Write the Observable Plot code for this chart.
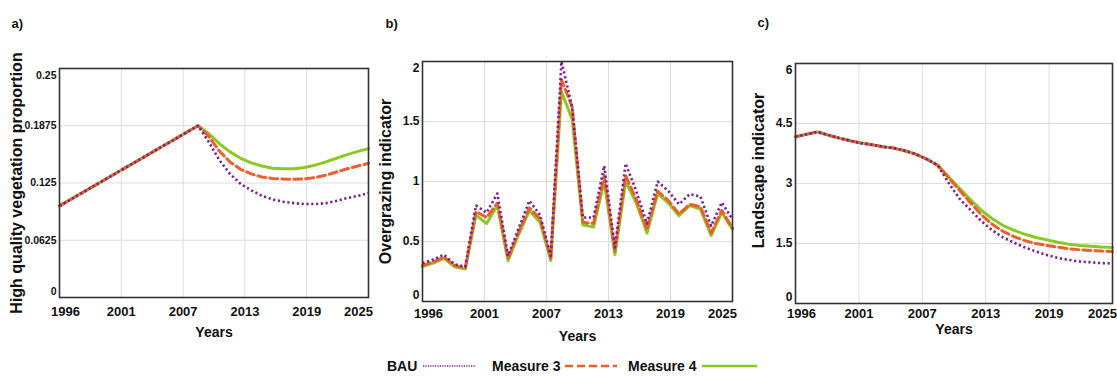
<!DOCTYPE html>
<html>
<head>
<meta charset="utf-8">
<script src="https://cdn.jsdelivr.net/npm/d3@7"></script>
<script src="https://cdn.jsdelivr.net/npm/@observablehq/plot@0.6"></script>
<style>
  body { margin: 0; background: #fff; }
  #fig { position: relative; width: 1117px; height: 377px; overflow: hidden; background: #fff;
         font-family: "Liberation Sans Narrow", "Liberation Sans", Arial, sans-serif; }
  .panel { position: absolute; top: 0; }
  .lg { position: absolute; top: 357px; font-size: 14px; font-weight: bold; color: #111; line-height: 18px; }
  .sw { position: absolute; top: 357px; }
</style>
</head>
<body>
<div id="fig">
  <div class="panel" id="pa" style="left:0px"></div>
  <div class="panel" id="pb" style="left:370px"></div>
  <div class="panel" id="pc" style="left:740px"></div>
  <div id="legend"></div>
</div>
<script>
// Simulation years and axis ticks (ticks split the 1996–2025 span in five equal steps)
const years = [1996,1997,1998,1999,2000,2001,2002,2003,2004,2005,2006,2007,2008,2009,2010,
               2011,2012,2013,2014,2015,2016,2017,2018,2019,2020,2021,2022,2023,2024,2025];
const xTicks = [1996, 2001.8, 2007.6, 2013.4, 2019.2, 2025];
const xTickLabels = ["1996", "2001", "2007", "2013", "2019", "2025"];

const scenarios = ["BAU", "Measure 3", "Measure 4"];

// a) High quality vegetation proportion
const vegBAU = [0.1000,0.1067,0.1135,0.1202,0.1269,0.1337,0.1404,0.1471,0.1538,0.1606,0.1673,0.1740,0.1808,0.1875,0.1700,
                0.1500,0.1350,0.1240,0.1170,0.1110,0.1070,0.1045,0.1030,0.1020,0.1020,0.1030,0.1055,0.1085,0.1110,0.1140];
const vegM3  = [0.1000,0.1067,0.1135,0.1202,0.1269,0.1337,0.1404,0.1471,0.1538,0.1606,0.1673,0.1740,0.1808,0.1875,0.1760,
                0.1600,0.1480,0.1400,0.1350,0.1315,0.1300,0.1293,0.1290,0.1295,0.1310,0.1335,0.1370,0.1405,0.1435,0.1465];
const vegM4  = [0.1000,0.1067,0.1135,0.1202,0.1269,0.1337,0.1404,0.1471,0.1538,0.1606,0.1673,0.1740,0.1808,0.1875,0.1790,
                0.1680,0.1590,0.1520,0.1470,0.1435,0.1412,0.1405,0.1405,0.1420,0.1445,0.1480,0.1520,0.1560,0.1595,0.1625];
const vegTicks = [0, 0.0625, 0.125, 0.1875, 0.25];
const vegTickLabels = ["0", "0.0625", "0.125", "0.1875", "0.25"];

// b) Overgrazing indicator
const grazBAU = [0.32,0.35,0.39,0.31,0.29,0.80,0.74,0.90,0.38,0.61,0.84,0.72,0.38,2.00,1.62,
                 0.70,0.70,1.13,0.45,1.15,0.92,0.65,1.00,0.92,0.81,0.895,0.875,0.63,0.825,0.685];
const grazM3  = [0.30,0.33,0.37,0.30,0.28,0.75,0.70,0.82,0.36,0.58,0.78,0.69,0.36,1.85,1.62,
                 0.66,0.65,1.05,0.42,1.05,0.85,0.60,0.92,0.84,0.73,0.81,0.79,0.57,0.76,0.61];
const grazM4  = [0.29,0.32,0.36,0.29,0.27,0.72,0.65,0.80,0.34,0.56,0.755,0.66,0.34,1.75,1.52,
                 0.64,0.62,1.00,0.39,1.00,0.82,0.57,0.90,0.82,0.715,0.80,0.77,0.55,0.74,0.60];
const grazTicks = [0, 0.5, 1, 1.5, 2];
const grazTickLabels = ["0", "0.5", "1", "1.5", "2"];

// c) Landscape indicator
const landBAU = [4.17,4.23,4.29,4.21,4.135,4.07,4.01,3.97,3.92,3.885,3.82,3.735,3.61,3.46,3.02,
                 2.62,2.34,2.06,1.83,1.65,1.52,1.40,1.30,1.21,1.14,1.09,1.05,1.03,1.01,1.00];
const landM3  = [4.17,4.23,4.29,4.21,4.135,4.07,4.01,3.97,3.92,3.885,3.82,3.735,3.61,3.46,3.15,
                 2.83,2.52,2.22,1.98,1.80,1.67,1.57,1.50,1.45,1.41,1.37,1.345,1.325,1.31,1.30];
const landM4  = [4.17,4.23,4.29,4.21,4.135,4.07,4.01,3.97,3.92,3.885,3.82,3.735,3.61,3.46,3.17,
                 2.88,2.60,2.33,2.12,1.95,1.83,1.73,1.65,1.59,1.53,1.48,1.45,1.43,1.41,1.40];
const landTicks = [0, 1.5, 3, 4.5, 6];
const landTickLabels = ["0", "1.5", "3", "4.5", "6"];

// Line styles per scenario
const styles = {
  "BAU":       {stroke: "#7a1f8f", strokeWidth: 2.6, strokeDasharray: "2.2 2.6", strokeLinecap: "butt"},
  "Measure 3": {stroke: "#e8602c", strokeWidth: 3,   strokeDasharray: "8 4"},
  "Measure 4": {stroke: "#8cc824", strokeWidth: 3}
};

const narrow = "Liberation Sans Narrow, Liberation Sans, sans-serif";
const wide = "Liberation Sans, Arial, sans-serif";

function rows(values) {
  return years.map((year, i) => ({year, value: values[i]}));
}

function makePanel(cfg) {
  const fmtX = d => xTickLabels[xTicks.indexOf(d)];
  const fmtY = d => cfg.yTickLabels[cfg.yTicks.indexOf(d)];
  const axX = {tickSize: 0, tickPadding: cfg.xPad, tickFormat: fmtX, label: null};
  const axY = {tickSize: 0, tickPadding: 3, tickFormat: fmtY, label: null, fontSize: cfg.yFont};
  // draw order: Measure 4 underneath, BAU on top
  const order = ["Measure 4", "Measure 3", "BAU"];
  const lines = order.map(s => Plot.line(rows(cfg.series[s]), {
    x: "year", y: "value", ...styles[s], strokeLinejoin: "round"
  }));
  return Plot.plot({
    width: cfg.width, height: 345,
    marginLeft: cfg.ml, marginRight: cfg.mr, marginTop: cfg.mt, marginBottom: cfg.mb,
    style: {fontFamily: narrow, fontWeight: "bold", fontSize: "13px", color: "#111", background: "transparent", overflow: "visible"},
    x: {domain: [1996, 2025], axis: null},
    y: {domain: [cfg.yTicks[0], cfg.yTicks[cfg.yTicks.length - 1]], axis: null},
    marks: [
      Plot.gridX(xTicks.slice(1, -1), {stroke: "#dcdcdc", strokeOpacity: 1, strokeWidth: 1}),
      Plot.gridY(cfg.yTicks.slice(1, -1), {stroke: "#dcdcdc", strokeOpacity: 1, strokeWidth: 1}),
      ...lines,
      Plot.frame({stroke: "#333", strokeWidth: 1.6}),
      Plot.axisX(xTicks.slice(1, -1), axX),
      Plot.axisX([xTicks[0]], {...axX, dx: 6}),
      Plot.axisX([xTicks[xTicks.length - 1]], {...axX, dx: -10}),
      Plot.axisY(cfg.yTicks.slice(1, -1), axY),
      Plot.axisY([cfg.yTicks[0]], {...axY, dy: -6}),
      Plot.axisY([cfg.yTicks[cfg.yTicks.length - 1]], {...axY, dy: 7}),
      Plot.text([cfg.yTitle], {text: d => d, frameAnchor: "left", textAnchor: "middle", rotate: -90,
        dx: cfg.yTitleDx, dy: cfg.yTitleDy,
        fontFamily: wide, fontWeight: "bold", fontSize: 16, fill: "#111"}),
      Plot.text(["Years"], {text: d => d, frameAnchor: "bottom", textAnchor: "middle", dy: cfg.xTitleDy,
        fontFamily: narrow, fontWeight: "bold", fontSize: 14, fill: "#111"}),
      Plot.text([cfg.letter], {text: d => d, frameAnchor: "top-left", textAnchor: "start",
        dx: cfg.letterDx, dy: cfg.letterDy, fontFamily: wide, fontWeight: "bold", fontSize: 13, fill: "#111"})
    ]
  });
}

document.getElementById("pa").append(makePanel({
  width: 375, ml: 59, mr: 7, mt: 68, mb: 48, xPad: 9, yFont: 10.5,
  yTicks: vegTicks, yTickLabels: vegTickLabels,
  yTitle: "High quality vegetation proportion", yTitleDx: -43, yTitleDy: 0, xTitleDy: 39,
  letter: "a)", letterDx: -48, letterDy: -50,
  series: {"BAU": vegBAU, "Measure 3": vegM3, "Measure 4": vegM4}
}));

document.getElementById("pb").append(makePanel({
  width: 370, ml: 52, mr: 8, mt: 61, mb: 44, xPad: 7, yFont: 12,
  yTicks: grazTicks, yTickLabels: grazTickLabels,
  yTitle: "Overgrazing indicator", yTitleDx: -37, yTitleDy: 0, xTitleDy: 39,
  letter: "b)", letterDx: -37, letterDy: -43,
  series: {"BAU": grazBAU, "Measure 3": grazM3, "Measure 4": grazM4}
}));

document.getElementById("pc").append(makePanel({
  width: 377, ml: 55, mr: 5, mt: 63, mb: 42, xPad: 5, yFont: 12,
  yTicks: landTicks, yTickLabels: landTickLabels,
  yTitle: "Landscape indicator", yTitleDx: -37, yTitleDy: -13, xTitleDy: 30,
  letter: "c)", letterDx: -38, letterDy: -46,
  series: {"BAU": landBAU, "Measure 3": landM3, "Measure 4": landM4}
}));

// Legend below the panels
const legend = document.getElementById("legend");
const legendItems = [
  {name: "BAU",       textLeft: 387, swLeft: 423, swWidth: 53},
  {name: "Measure 3", textLeft: 492, swLeft: 565, swWidth: 52},
  {name: "Measure 4", textLeft: 628, swLeft: 702, swWidth: 55}
];
legendItems.forEach(it => {
  const t = document.createElement("div");
  t.className = "lg"; t.style.left = it.textLeft + "px"; t.textContent = it.name;
  legend.append(t);
  const st = styles[it.name];
  const sw = d3.create("svg").attr("class", "sw").attr("width", it.swWidth).attr("height", 18)
    .style("left", it.swLeft + "px");
  sw.append("line").attr("x1", 0).attr("x2", it.swWidth).attr("y1", 9).attr("y2", 9)
    .attr("stroke", st.stroke)
    .attr("stroke-width", it.name === "BAU" ? 1.6 : 2.4)
    .attr("stroke-dasharray", it.name === "BAU" ? "1.2 1.2" : (st.strokeDasharray || null));
  legend.append(sw.node());
});
</script>
</body>
</html>
